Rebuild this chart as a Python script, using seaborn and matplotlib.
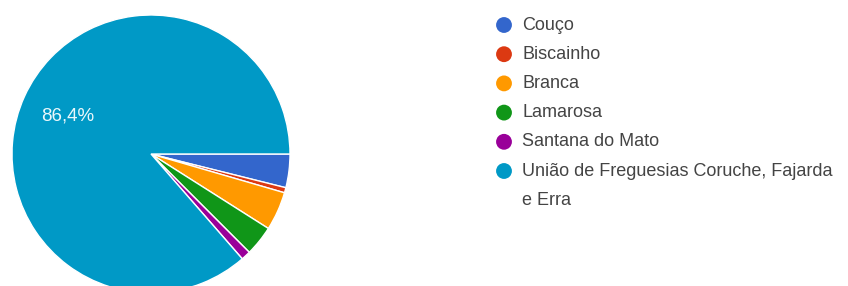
import matplotlib
matplotlib.use("Agg")
import matplotlib.pyplot as plt
import seaborn as sns

# freguesias and share of answers (%)
freguesias = ["Couço", "Biscainho", "Branca", "Lamarosa", "Santana do Mato",
              "União de Freguesias Coruche, Fajarda\ne Erra"]
percent = [3.9, 0.6, 4.5, 3.5, 1.1, 86.4]
cores = ["#3366cc", "#dc3912", "#ff9900", "#109618", "#990099", "#0099c6"]


def fmt_pct(p):
    # only the big slice gets a label, like the forms chart
    return "{:.1f}%".format(p).replace(".", ",") if p > 10 else ""


def main():
    sns.set_style("white")
    plt.rcParams["font.family"] = ["Liberation Sans", "DejaVu Sans"]

    W, H = 848, 286
    fig = plt.figure(figsize=(W / 100, H / 100), dpi=100)

    # pie axes: centre (151,154) px, radius 139 px
    cx, cy, r = 151, 154, 139
    ax = fig.add_axes([(cx - r) / W, (H - cy - r) / H, 2 * r / W, 2 * r / H])
    wedges, texts, autotexts = ax.pie(
        percent, colors=cores, startangle=0, counterclock=False,
        autopct=fmt_pct, pctdistance=0.66,
        wedgeprops=dict(edgecolor="white", linewidth=1),
        textprops=dict(color="#eaf7fb", fontsize=13.5))
    ax.set_xlim(-1, 1)
    ax.set_ylim(-1, 1)
    ax.set_aspect("equal")
    ax.axis("off")

    # legend drawn on an overlay in pixel units
    lg = fig.add_axes([0, 0, 1, 1], facecolor="none")
    lg.set_xlim(0, W)
    lg.set_ylim(H, 0)
    lg.axis("off")
    y = 25
    for nome, c in zip(freguesias, cores):
        lg.scatter([504], [y], s=130, color=c, edgecolor="none")
        for k, linha in enumerate(nome.split("\n")):
            lg.text(522, y + 29.2 * k, linha, fontsize=13, color="#444444",
                    va="center", ha="left")
        y += 29.2

    plt.savefig("out.png", dpi=100)


if __name__ == "__main__":
    main()
